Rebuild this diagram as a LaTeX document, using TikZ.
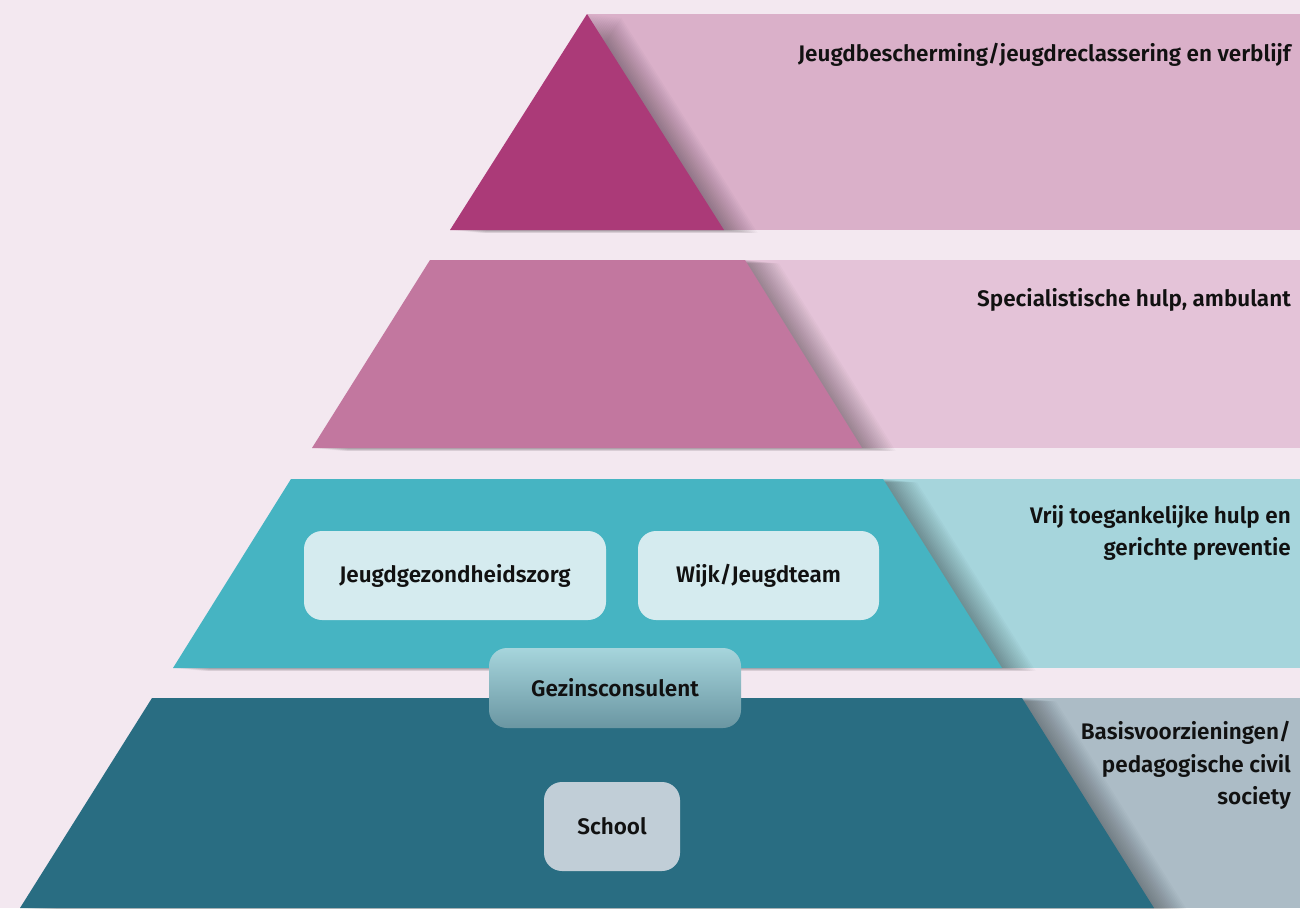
\documentclass[tikz,border=0pt]{standalone}
\usepackage{fontspec}
\setmainfont{Fira Sans}
\newfontfamily\semib{Fira Sans SemiBold}
\definecolor{bg}{HTML}{F3E8F0}
\definecolor{r1}{HTML}{DAB0C9}
\definecolor{t1}{HTML}{AB3A78}
\definecolor{r2}{HTML}{E4C3D8}
\definecolor{t2}{HTML}{C2779F}
\definecolor{r3}{HTML}{A6D5DC}
\definecolor{t3}{HTML}{46B4C2}
\definecolor{r4}{HTML}{ACBCC6}
\definecolor{t4}{HTML}{296D82}
\definecolor{bx3}{HTML}{D5EBEF}
\definecolor{bx4}{HTML}{C1CED7}
\definecolor{gtop}{HTML}{A6D5DC}
\definecolor{gbot}{HTML}{6A96A2}
\definecolor{txt}{HTML}{111111}
\tikzset{
  lbl/.style={anchor=north east, align=right, font=\semib\fontsize{22.5}{32.5}\selectfont, text=txt, inner sep=0pt},
  box/.style={rounded corners=18pt, font=\semib\fontsize{22.5}{26}\selectfont, text=txt, inner sep=0pt},
}
\newcommand{\shadowed}[2]{%
  \begin{scope}
    \foreach \k in {2,4,...,34} {
      \fill[black, opacity=0.018, xshift=\k, yshift=-0.1*\k] #1;
    }
  \end{scope}
  \fill[#2] #1;
}
\begin{document}
\begin{tikzpicture}[x=1pt,y=-1pt]
\useasboundingbox (0,0) rectangle (1300,908);
\fill[bg] (0,0) rectangle (1300,908);
% band 1
\fill[r1] (587,14) rectangle (1300,230);
\begin{scope}
\clip (0,12) rectangle (1300,232);
\shadowed{(587,14) -- (724,230) -- (450,230) -- cycle}{t1}
\end{scope}
% band 2
\fill[r2] (745,260) rectangle (1300,448);
\begin{scope}
\clip (0,258) rectangle (1300,450);
\shadowed{(430,260) -- (745,260) -- (862,448) -- (312,448) -- cycle}{t2}
\end{scope}
% band 3
\fill[r3] (883,479) rectangle (1300,668);
\begin{scope}
\clip (0,477) rectangle (1300,670);
\shadowed{(291,479) -- (883,479) -- (1002,668) -- (173,668) -- cycle}{t3}
\end{scope}
% band 4
\fill[r4] (1022,698) rectangle (1300,908);
\begin{scope}
\clip (0,696) rectangle (1300,908);
\shadowed{(152,698) -- (1022,698) -- (1154,908) -- (20,908) -- cycle}{t4}
\end{scope}
% labels
\node[lbl] (l1) at (1291,43) {Jeugdbescherming/jeugdreclassering en verblijf};
\node[lbl] (l2) at (1291,288) {Specialistische hulp, ambulant};
\node[lbl] (l3) at (1291,505) {Vrij toegankelijke hulp en\\gerichte preventie};
\node[lbl] (l4) at (1291,721) {Basisvoorzieningen/\\pedagogische civil\\society};
% boxes
\node[box, fill=bx3, minimum width=302pt, minimum height=89pt] (jgz) at (455,575.5) {Jeugdgezondheidszorg};
\node[box, fill=bx3, minimum width=241pt, minimum height=89pt] (wijk) at (758.5,575.5) {Wijk/Jeugdteam};
\node[box, fill=bx4, minimum width=136pt, minimum height=89pt] (school) at (612,826.5) {School};
\node[box, top color=gtop, bottom color=gbot, minimum width=252pt, minimum height=80pt] (gez) at (615,688) {Gezinsconsulent};
\end{tikzpicture}
\end{document}
